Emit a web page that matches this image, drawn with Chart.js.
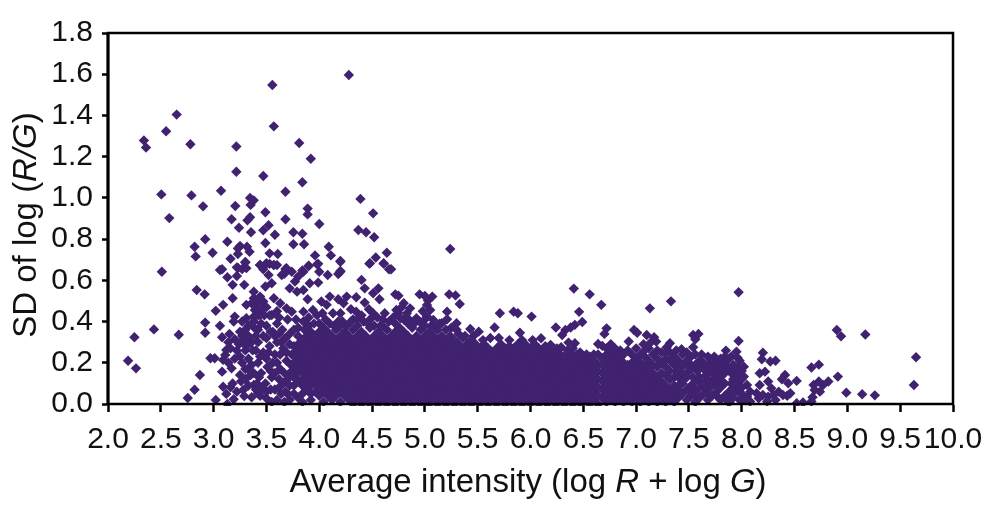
<!DOCTYPE html>
<html><head><meta charset="utf-8">
<style>html,body{margin:0;padding:0;background:#fff}#w{width:1000px;height:532px;position:relative}</style>
<script src="https://cdn.jsdelivr.net/npm/chart.js@4"></script>
</head><body><div id="w"><canvas id="c" width="1000" height="532"></canvas></div>
<script>
const xTickLabels = ["2.0","2.5","3.0","3.5","4.0","4.5","5.0","5.5","6.0","6.5","7.0","7.5","8.0","8.5","9.0","9.5","10.0"];
const yTickLabels = ["0.0","0.2","0.4","0.6","0.8","1.0","1.2","1.4","1.6","1.8"];
const xTitleParts = [["Average intensity (log ",0],["R",1],[" + log ",0],["G",1],[")",0]];
const yTitleParts = [["SD of log (",0],["R/G",1],[")",0]];

// Individually readable points: [intensity, SD]
const sparsePoints = [
[4.28,1.596],[3.556,1.548],[2.65,1.404],[2.55,1.323],[2.34,1.279],[2.36,1.244],[2.78,1.26],[3.215,1.249],[3.57,1.347],[3.81,1.266],[3.92,1.19],[3.215,1.127],[3.47,1.106],[3.84,1.076],[3.07,1.035],[3.68,1.03],[2.505,1.017],[2.79,1.012],[4.39,.995],[3.345,1],[3.38,.988],[2.9,.959],[3.205,.961],[3.35,.966],[3.89,.948],[3.49,.93],[3.89,.92],[4.51,.925],[2.58,.902],[3.17,.896],[3.345,.906],[3.32,.891],[3.68,.896],[4,.873],[3.52,.867],[3.24,.855],[3.47,.843],[3.354,.833],[3.755,.833],[3.84,.826],[4.37,.844],[4.443,.833],[3.58,.821],[4.52,.809],[2.92,.799],[3.13,.787],[3.49,.781],[3.755,.775],[3.856,.775],[2.82,.763],[3.25,.767],[3.316,.763],[4.09,.763],[3.23,.755],[3.34,.739],[5.24,.752],[2.99,.734],[3.23,.728],[3.53,.731],[3.607,.728],[4.64,.734],[3.96,.721],[4.11,.721],[2.83,.716],[4.535,.711],[3.16,.705],[3.3,.689],[4.2,.694],[4.475,.681],[4.61,.681],[3.44,.674],[3.49,.676],[3.53,.68],[3.57,.674],[3.6,.674],[3.9,.671],[3.98,.678],[3.23,.66],[3.27,.655],[3.06,.65],[3.68,.655],[3.84,.648],[4.2,.645],[4.66,.654],[2.51,.642],[2.84,.553],[2.915,.532],[2.25,.324],[2.435,.362],[2.67,.336],[2.19,.21],[2.265,.173],[2.755,.029],[2.82,.069],[2.87,.141],
[3.08,.654],[3.13,.615],[3.22,.621],[3.3,.686],[3.22,.663],[3.31,.659],[3.18,.578],[3.29,.578],[3.18,.513],[3.02,.452],[3.09,.481],[2.92,.395],[2.92,.346],[3.06,.38],[3.08,.324],[3.15,.34],[3.2,.314],[3.31,.481],[3.38,.545],[3.38,.513],[3.44,.521],[3.41,.489],[3.47,.497],[3.36,.489],[3.455,.464],[3.39,.456],[3.44,.675],[3.5,.683],[3.57,.675],[3.47,.654],[3.52,.626],[3.49,.57],[3.55,.586],[3.645,.626],[3.69,.659],[3.74,.642],[3.67,.632],[3.85,.642],[3.8,.618],[3.77,.594],[3.9,.67],[3.99,.68],[4,.642],[4.08,.626],[4.2,.69],[4.18,.631],[4.2,.642],[3.91,.586],[3.99,.589],[3.72,.561],[3.79,.545],[3.85,.553],[3.89,.508],[4.48,.683],[4.61,.683],[4.68,.654],[4.4,.602],[4.43,.561],[4.51,.537],[4.56,.561],[4.57,.508],[4.72,.532],[4.75,.525],[4.95,.532],[5,.524],[5.07,.521],[5.03,.502],[5.23,.532],[5.29,.527],[5.33,.485],[5.71,.44],[5.84,.448],[5.88,.44],[6.01,.424],[5.9,.346],[5.66,.371],[5.43,.364],[5.51,.351],[5.3,.392],[5.21,.448],[5.21,.411],[5.16,.392],[3.57,.513],[3.63,.489],[3.69,.464],[3.74,.448],[3.85,.448],[4.02,.497],[4.1,.521],[4.18,.508],[4.26,.521],[4.35,.518],[4.43,.492],[4.07,.481],[4.23,.489],[3.94,.456],[4.13,.44],[4.35,.448],[4.51,.44],[4.62,.44],[4.8,.489],[4.86,.464],[4.73,.456],[4.77,.416],[5.05,.456],[4.92,.416],[5.02,.424],[5.08,.408],[4.83,.44],[4.78,.47],[4.98,.45],[5.02,.48],[4.47,.46],[4.55,.42],[4.6,.41],[4.48,.41],[4.4,.43],[4.3,.46],[4.2,.44],[4.03,.44],[3.98,.43],[3.9,.42],[4.06,.41],[4.22,.4],[4.32,.41],[3.6,.45],[3.53,.43],[3.62,.42],[3.7,.41],[3.78,.41],[3.85,.4],
[3.2,.424],[3.19,.4],[3.31,.416],[3.38,.424],[3.44,.432],[3.25,.351],[3.39,.367],[3.34,.311],[3.55,.432],[3.12,.262],[2.97,.222],[3.01,.222],[3.09,.214],[3.08,.157],[3.17,.173],[3.11,.238],[3.25,.23],[3.31,.279],[3.25,.141],[3.09,.084],[3.16,.081],[3.12,.049],[3.19,.023],[3.02,.02],[3.13,0],[3.28,.068],[3.29,.039],[3.36,.033],[3.42,.052],[3.5,.028],[3.35,.141],[3.38,.092],[3.49,.1],[3.33,.22],[3.37,.26],[3.42,.3],[3.47,.33],[3.36,.19],[3.42,.2],[3.47,.25],[3.51,.18],[3.45,.15],[3.53,.28],[3.56,.35],[3.5,.38],[3.6,.39],[3.45,.39],[3.58,.24],[3.6,.3],[3.55,.13],[3.58,.07],[3.6,.02],[3.63,.17],[3.66,.1],[3.69,.21],[3.65,.36],[3.7,.05],[3.72,.15],[3.66,.27],[3.3,.12],[3.41,.1],[3.18,.1],[3.14,.2],[3.42,.36],[3.33,.38],[3.28,.31],
[6.41,.56],[6.56,.532],[6.67,.481],[6.46,.447],[6.49,.398],[7.13,.464],[7.33,.498],[7.97,.542],[6.24,.371],[6.42,.384],[6.38,.371],[6.33,.359],[6.3,.335],[6.1,.319],[6.36,.298],[6.42,.295],[6.29,.275],[6.19,.287],[6.72,.367],[6.7,.34],[6.64,.291],[6.68,.282],[6.93,.303],[6.98,.359],[7.01,.346],[7.1,.335],[7.17,.324],[7.19,.303],[7.32,.295],[7.29,.275],[7.54,.335],[7.59,.34],[7.56,.314],[7.97,.306],[7.54,.275],[7.43,.266],[7.85,.259],[7.95,.254],[7.96,.225],[8.2,.249],[8.19,.217],[8.27,.206],[8.32,.21],[8.66,.177],[8.73,.191],[8.9,.359],[8.94,.329],[9.17,.337],[9.65,.227],[9.63,.092],[8.91,.133],[8.99,.055],[9.14,.047],[9.26,.042],[8.52,.112],[8.41,.141],[8.38,.12],[8.44,.101],[8.82,.109],[8.77,.092],[8.68,.092],[8.73,.109],[8.74,.06],[8.69,.068],[8.67,.033],[8.66,.012],[8.52,.004],[8.58,.007],[8.46,.052],[8.39,.044],[8.35,.06],[8.43,.04],[8.32,.02],[8.17,.149],[8.22,.157],[8.25,.109],[8.17,.092],[8.28,.076],[8.14,.052],[8.2,.044],[8.25,.036],[8.3,.044],[8.16,.028],[8.24,.012],[8.02,.181],[7.94,.165],[8.02,.133],[8.05,.092],[8.08,.06],[8.05,.036],[8.08,.012],[8,.02],[7.88,.007]
];

// Estimated marks that thicken the edges of the solid mass: [intensity, SD]
const leftFringe = [[3.27,.4],[3.3,.36],[3.27,.33],[3.33,.33],[3.3,.26],[3.27,.2],[3.33,.17],[3.24,.29],[3.36,.3],[3.4,.33],[3.38,.4],[3.42,.43],[3.48,.43],[3.46,.46],[3.5,.47],[3.4,.26],[3.44,.23],[3.5,.22],[3.52,.25],[3.5,.32],[3.54,.35],[3.58,.33],[3.62,.34],[3.64,.3],[3.68,.32],[3.72,.34],[3.76,.36],[3.72,.29],[3.69,.25],[3.63,.24],[3.6,.2],[3.56,.2],[3.54,.16],[3.58,.15],[3.62,.12],[3.67,.15],[3.7,.12],[3.73,.19],[3.74,.24],[3.72,.09],[3.68,.06],[3.64,.05],[3.62,.08],[3.54,.07],[3.5,.06],[3.46,.08],[3.43,.13],[3.38,.15],[3.33,.09],[3.26,.11],[3.22,.06],[3.55,.01],[3.67,.01],[3.72,.02],[3.3,.17],[3.22,.26],[3.2,.22],[3.16,.27],[3.14,.3],[3.4,.07],[3.44,.04]];
const upperFringe = [[3.8,.37],[3.86,.36],[3.9,.38],[3.95,.39],[4,.39],[4.1,.39],[4.14,.38],[4.18,.4],[4.26,.38],[4.3,.4],[4.36,.41],[4.42,.4],[4.46,.39],[4.52,.38],[4.58,.38],[4.66,.4],[4.7,.42],[4.75,.44],[4.85,.41],[4.9,.39],[4.95,.4],[5,.41],[5.06,.38],[5.1,.37],[5.14,.39],[5.25,.37],[5.3,.36],[5.38,.33],[5.46,.33],[5.55,.31],[5.62,.32],[5.7,.32],[5.8,.31],[5.95,.29],[6.02,.31],[6.14,.28],[6.25,.27],[6.35,.26],[6.47,.25],[6.53,.24],[6.6,.24],[6.85,.26],[6.8,.27],[6.76,.29],[7.04,.24],[7.07,.29],[7.14,.3],[7.2,.26]];
const rightFringe = [[7.36,.13],[7.38,.16],[7.42,.1],[7.46,.13],[7.46,.19],[7.5,.16],[7.5,.2],[7.5,.07],[7.54,.13],[7.54,.08],[7.58,.16],[7.58,.03],[7.62,.18],[7.62,.1],[7.66,.14],[7.66,.07],[7.7,.16],[7.7,.1],[7.7,.04],[7.74,.18],[7.74,.12],[7.78,.14],[7.78,.08],[7.78,.03],[7.82,.16],[7.82,.1],[7.86,.18],[7.86,.02],[7.9,.15],[7.9,.1],[7.9,.05],[7.94,.13],[7.98,.02],[7.74,.23],[7.68,.23],[7.62,.24],[7.84,.23],[7.9,.23],[7.48,.25],[7.38,.26],[7.28,.25],[7.98,.21],[8.02,.02]];

// Estimated fill of the solid mass, where single marks cannot be told apart: [intensity, SD, SD, ...]
const massColumns = [
[3.76,.05,.09,.13,.16,.2,.24,.28],
[3.8,.03,.11,.15,.18,.22,.26,.29,.33],
[3.84,.01,.05,.09,.12,.16,.2,.24,.27,.31],
[3.88,.07,.1,.14,.18,.22,.25,.29,.33],
[3.92,.02,.05,.09,.12,.16,.2,.23,.27,.31,.35],
[3.96,.06,.1,.14,.18,.21,.25,.29,.33],
[4,.04,.08,.12,.16,.19,.23,.27,.31,.35],
[4.04,.01,.06,.1,.14,.18,.21,.25,.29,.33,.37],
[4.08,.04,.08,.12,.16,.19,.23,.27,.31,.35],
[4.12,.02,.06,.1,.14,.18,.21,.25,.29,.33],
[4.16,.04,.08,.12,.16,.19,.23,.27,.31,.36],
[4.2,.01,.06,.1,.14,.18,.21,.25,.29,.33,.38],
[4.24,.04,.08,.12,.16,.19,.23,.27,.31,.35],
[4.28,.02,.06,.1,.14,.18,.21,.25,.29,.33],
[4.32,0,.04,.08,.12,.16,.19,.23,.27,.31,.36],
[4.36,.02,.06,.1,.14,.18,.21,.25,.29,.33,.38],
[4.4,0,.04,.08,.12,.16,.19,.23,.27,.31,.35],
[4.44,.02,.06,.1,.14,.18,.21,.25,.29,.33],
[4.48,0,.04,.08,.12,.16,.19,.23,.27,.31,.37],
[4.52,.02,.06,.1,.14,.18,.21,.25,.29,.33],
[4.56,0,.04,.08,.12,.16,.19,.23,.27,.31,.35],
[4.6,.02,.06,.1,.14,.18,.21,.25,.29,.33,.38],
[4.64,0,.04,.08,.12,.16,.19,.23,.27,.31,.36],
[4.68,.02,.06,.1,.14,.18,.21,.25,.29,.33],
[4.72,0,.04,.08,.12,.16,.19,.23,.27,.31,.35,.39],
[4.76,.02,.06,.1,.14,.18,.21,.25,.29,.33,.37],
[4.8,0,.04,.08,.12,.16,.19,.23,.27,.31,.35,.41],
[4.84,.02,.06,.1,.14,.18,.21,.25,.29,.33,.39],
[4.88,0,.04,.08,.12,.16,.19,.23,.27,.31,.37],
[4.92,.02,.06,.1,.14,.18,.21,.25,.29,.33],
[4.96,0,.04,.08,.12,.16,.19,.23,.27,.31,.36],
[5,.02,.06,.1,.14,.18,.21,.25,.29,.33,.38],
[5.04,0,.04,.08,.12,.16,.19,.23,.27,.31,.35],
[5.08,.02,.06,.1,.14,.18,.21,.25,.29,.33],
[5.12,0,.04,.08,.12,.16,.19,.23,.27,.31,.36],
[5.16,.02,.06,.1,.14,.18,.21,.25,.29,.33],
[5.2,0,.04,.08,.12,.16,.19,.23,.27,.31,.36],
[5.24,.02,.06,.1,.14,.18,.21,.25,.29,.33],
[5.28,0,.04,.08,.12,.16,.19,.23,.27,.31],
[5.32,.02,.06,.1,.14,.18,.21,.25,.29,.34],
[5.36,0,.04,.08,.12,.16,.19,.23,.27,.32],
[5.4,.02,.06,.1,.14,.18,.21,.25,.29],
[5.44,0,.04,.08,.12,.16,.19,.23,.27,.31],
[5.48,.02,.06,.1,.14,.18,.21,.25,.29],
[5.52,0,.04,.08,.12,.16,.19,.23,.27],
[5.56,.02,.06,.1,.14,.18,.21,.25,.29],
[5.6,0,.04,.08,.12,.16,.19,.23,.27],
[5.64,.02,.06,.1,.14,.18,.21,.25],
[5.68,0,.04,.08,.12,.16,.19,.23,.27],
[5.72,.02,.06,.1,.14,.18,.21,.25,.29],
[5.76,0,.04,.08,.12,.16,.19,.23,.27],
[5.8,.02,.06,.1,.14,.18,.21,.25,.28],
[5.84,0,.04,.08,.12,.16,.19,.23,.27],
[5.88,.02,.06,.1,.14,.18,.21,.25,.29],
[5.92,0,.04,.08,.12,.16,.19,.23,.27,.31],
[5.96,.02,.06,.1,.14,.18,.21,.25],
[6,0,.04,.08,.12,.16,.19,.23,.27],
[6.04,.02,.06,.1,.14,.18,.21,.25,.29],
[6.08,0,.04,.08,.12,.16,.19,.23,.27],
[6.12,.02,.06,.1,.14,.18,.21,.25],
[6.16,0,.04,.08,.12,.16,.19,.23,.27],
[6.2,.02,.06,.1,.14,.18,.21,.25],
[6.24,0,.04,.08,.12,.16,.19,.23],
[6.28,.02,.06,.1,.14,.18,.21,.24],
[6.32,0,.04,.08,.12,.16,.19,.23],
[6.36,.02,.06,.1,.14,.18,.21,.25],
[6.4,0,.04,.08,.12,.16,.19,.23,.27],
[6.44,.02,.06,.1,.14,.18,.21,.24],
[6.48,0,.04,.08,.12,.16,.19,.22],
[6.52,.02,.06,.1,.14,.18,.21],
[6.56,0,.04,.08,.12,.16,.2,.23],
[6.6,.02,.06,.1,.14,.18,.21],
[6.64,0,.04,.08,.12,.16,.19,.24],
[6.68,.03,.07,.11,.15,.19,.22],
[6.72,.01,.05,.09,.13,.17,.2,.24,.27],
[6.76,.03,.07,.11,.15,.19,.22,.26],
[6.8,.01,.05,.09,.13,.17,.2,.24],
[6.84,.03,.07,.11,.15,.19,.22],
[6.88,.01,.05,.09,.13,.17,.2,.24],
[6.92,.03,.07,.11,.15,.19,.26],
[6.96,.01,.05,.09,.13,.17,.2,.24],
[7,.03,.07,.11,.15,.19,.22,.27],
[7.04,.01,.05,.09,.13,.17,.2],
[7.08,.03,.07,.11,.15,.19,.23,.26],
[7.12,.01,.05,.09,.13,.17,.21,.27],
[7.16,.03,.07,.11,.15,.19,.24],
[7.2,.01,.05,.09,.13,.18,.22],
[7.24,.03,.07,.11,.15,.2,.25],
[7.28,.01,.05,.09,.14,.18,.22],
[7.32,.03,.07,.12,.16,.21,.25],
[7.36,.01,.05,.09,.19,.23],
[7.4,.03,.07,.13,.17,.21],
[7.44,.05,.1,.15,.19,.24],
[7.48,.02,.07,.13,.21],
[7.52,.04,.09,.17,.23],
[7.56,.01,.06,.11,.19,.24],
[7.6,.03,.08,.13,.21],
[7.64,.05,.1,.17,.2],
[7.68,.02,.07,.12,.19],
[7.72,.04,.09,.15,.21],
[7.76,.06,.11,.17,.2],
[7.8,.02,.08,.13,.19,.22],
[7.84,.04,.1,.15,.2],
[7.88,.06,.17,.22],
[7.92,.03,.08,.12,.19],
[7.96,.06,.1,.14,.18],
[8,.05,.08,.12,.16]
];

const points = [...sparsePoints, ...leftFringe, ...upperFringe, ...rightFringe].map(p => ({x:p[0], y:p[1]}));
massColumns.forEach(col => col.slice(1).forEach(v => points.push({x:col[0], y:v})));

const ink = '#000';
const textInk = '#111';
const purple = '#402270';
const fontFamily = '"Liberation Sans", Arial, sans-serif';
const tickSize = 30, titleSize = 33;

function drawParts(ctx, parts, size) {
  let total = 0;
  parts.forEach(p => { ctx.font = (p[1] ? 'italic ' : '') + size + 'px ' + fontFamily; total += ctx.measureText(p[0]).width; });
  let at = -total / 2;
  parts.forEach(p => { ctx.font = (p[1] ? 'italic ' : '') + size + 'px ' + fontFamily; ctx.fillText(p[0], at, 0); at += ctx.measureText(p[0]).width; });
}

const framePlugin = {
  id: 'frame',
  afterDatasetsDraw(chart) {
    const {ctx, chartArea: a} = chart;
    ctx.save();
    ctx.strokeStyle = ink; ctx.lineWidth = 2.5;
    ctx.strokeRect(a.left, a.top, a.right - a.left, a.bottom - a.top);
    ctx.fillStyle = ink; ctx.fillRect(a.left - 1.5, a.top, 3, a.bottom - a.top);
    ctx.restore();
  },
  afterDraw(chart) {
    const {ctx} = chart;
    ctx.save();
    ctx.fillStyle = textInk; ctx.textAlign = 'left'; ctx.textBaseline = 'alphabetic';
    ctx.translate(528, 492);
    drawParts(ctx, xTitleParts, titleSize);
    ctx.restore();
    ctx.save();
    ctx.fillStyle = textInk; ctx.textAlign = 'left'; ctx.textBaseline = 'alphabetic';
    ctx.translate(36, 225); ctx.rotate(-Math.PI / 2);
    drawParts(ctx, yTitleParts, titleSize);
    ctx.restore();
  }
};

new Chart(document.getElementById('c'), {
  type: 'scatter',
  data: { datasets: [{ data: points, pointStyle: 'rectRot', pointRadius: 5.2, pointHoverRadius: 5.2,
    backgroundColor: purple, borderColor: purple, borderWidth: 0, clip: {left:0, top:0, right:0, bottom:2} }] },
  plugins: [framePlugin],
  options: {
    responsive: false, animation: false, events: [],
    layout: { padding: { top: 33, right: 47, left: 0, bottom: 0 } },
    plugins: { legend: { display: false }, tooltip: { enabled: false }, title: { display: false } },
    scales: {
      x: { type: 'linear', min: 2, max: 10,
        afterFit(s) { s.height = 128; },
        afterBuildTicks(s) { s.ticks = xTickLabels.map(t => ({value: parseFloat(t)})); },
        grid: { drawOnChartArea: false, drawTicks: true, tickLength: 8, tickColor: ink, tickWidth: 2.5 },
        border: { display: true, color: ink, width: 2 },
        ticks: { color: textInk, autoSkip: false, maxRotation: 0, minRotation: 0, padding: 10,
          font: { family: fontFamily, size: tickSize },
          callback: (v) => xTickLabels.find(t => parseFloat(t) === v) } },
      y: { type: 'linear', min: 0, max: 1.8,
        afterFit(s) { s.width = 108; },
        afterBuildTicks(s) { s.ticks = yTickLabels.map(t => ({value: parseFloat(t)})); },
        grid: { drawOnChartArea: false, drawTicks: true, tickLength: 6, tickColor: ink, tickWidth: 2.5 },
        border: { display: true, color: ink, width: 2 },
        ticks: { color: textInk, autoSkip: false, padding: 9,
          font: { family: fontFamily, size: tickSize },
          callback: (v) => yTickLabels.find(t => parseFloat(t) === v) } }
    }
  }
});
</script></body></html>
